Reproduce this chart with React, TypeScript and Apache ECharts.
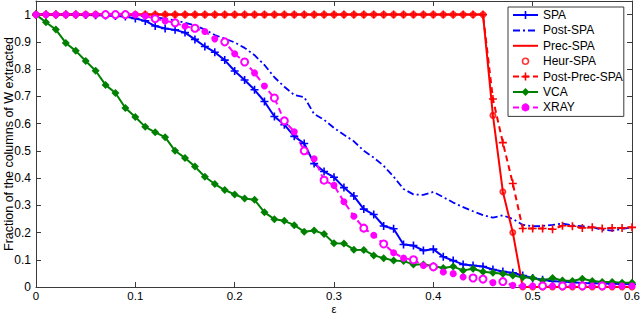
import React, { useEffect, useRef } from "react";
import * as echarts from "echarts";

const EPS = Array.from({ length: 61 }, (_, i) => +(i * 0.01).toFixed(2));

const SPA = [
  1, 1, 1, 1, 1,
  0.999, 0.998, 0.997, 0.995, 0.993,
  0.986, 0.977, 0.958, 0.949, 0.944,
  0.934, 0.909, 0.883, 0.862, 0.833,
  0.793, 0.76, 0.724, 0.681, 0.626,
  0.596, 0.553, 0.527, 0.453, 0.424,
  0.403, 0.365, 0.334, 0.286, 0.266,
  0.224, 0.214, 0.156, 0.152, 0.134,
  0.139, 0.111, 0.097, 0.083, 0.079,
  0.075, 0.064, 0.057, 0.052, 0.042,
  0.033, 0.027, 0.021, 0.02, 0.017,
  0.015, 0.014, 0.013, 0.012, 0.011,
  0.01,
];

const POST_SPA = [
  1, 1, 1, 1, 1,
  1, 1, 1, 1, 0.999,
  0.997, 0.994, 0.99, 0.985, 0.979,
  0.97, 0.96, 0.945, 0.925, 0.912,
  0.898, 0.878, 0.851, 0.815, 0.77,
  0.735, 0.705, 0.697, 0.635, 0.614,
  0.584, 0.559, 0.535, 0.5, 0.475,
  0.445, 0.405, 0.36, 0.34, 0.338,
  0.349, 0.33, 0.31, 0.293, 0.278,
  0.264, 0.255, 0.263, 0.25, 0.228,
  0.223, 0.224, 0.228, 0.233, 0.226,
  0.223, 0.22, 0.21, 0.207, 0.213,
  0.219,
];

const PREC_SPA = [
  1, 1, 1, 1, 1, 1, 1, 1, 1, 1,
  1, 1, 1, 1, 1, 1, 1, 1, 1, 1,
  1, 1, 1, 1, 1, 1, 1, 1, 1, 1,
  1, 1, 1, 1, 1, 1, 1, 1, 1, 1,
  1, 1, 1, 1, 1, 1,
  0.63, 0.35, 0.2,
  0, 0, 0, 0, 0, 0, 0, 0, 0, 0, 0, 0,
];

const HEUR_SPA = [
  1, 1, 1, 1, 1, 1, 1, 1, 1, 1,
  1, 1, 1, 1, 1, 1, 1, 1, 1, 1,
  1, 1, 1, 1, 1, 1, 1, 1, 1, 1,
  1, 1, 1, 1, 1, 1, 1, 1, 1, 1,
  1, 1, 1, 1, 1, 1,
  0.63, 0.35, 0.2,
  0, 0, 0, 0, 0, 0, 0, 0, 0, 0, 0, 0,
];

const POST_PREC_SPA = [
  1, 1, 1, 1, 1, 1, 1, 1, 1, 1,
  1, 1, 1, 1, 1, 1, 1, 1, 1, 1,
  1, 1, 1, 1, 1, 1, 1, 1, 1, 1,
  1, 1, 1, 1, 1, 1, 1, 1, 1, 1,
  1, 1, 1, 1, 1, 1,
  0.69, 0.53, 0.38,
  0.215, 0.215, 0.215, 0.212, 0.225, 0.223, 0.217, 0.219, 0.215, 0.217, 0.217, 0.219,
];

const VCA = [
  1, 0.972, 0.945, 0.896, 0.867,
  0.83, 0.794, 0.742, 0.712, 0.657,
  0.624, 0.588, 0.568, 0.55, 0.5,
  0.474, 0.442, 0.405, 0.378, 0.356,
  0.34, 0.325, 0.32, 0.274, 0.249,
  0.243, 0.227, 0.203, 0.207, 0.195,
  0.161, 0.16, 0.137, 0.136, 0.116,
  0.106, 0.097, 0.095, 0.083, 0.083,
  0.077, 0.07, 0.075, 0.061, 0.067,
  0.056, 0.052, 0.049, 0.042, 0.036,
  0.033, 0.024, 0.033, 0.024, 0.022,
  0.03, 0.022, 0.018, 0.018, 0.016,
  0.016,
];

const XRAY = [
  1, 1, 1, 1, 1,
  1, 1, 1, 1, 1,
  1, 0.995, 0.985, 0.977, 0.97,
  0.957, 0.95, 0.938, 0.911, 0.9,
  0.856, 0.826, 0.786, 0.738, 0.694,
  0.61, 0.57, 0.5, 0.471, 0.392,
  0.373, 0.313, 0.26, 0.216, 0.19,
  0.158, 0.126, 0.106, 0.1, 0.079,
  0.074, 0.055, 0.049, 0.037, 0.033,
  0.029, 0.016, 0.02, 0.006, 0.004,
  0.004, 0.004, 0.004, 0.004, 0.004,
  0.004, 0.004, 0.004, 0.004, 0.004,
  0.004,
];

// epsilon values where the XRAY marker appears as an open circle
const XRAY_OPEN = [0.07, 0.08, 0.09, 0.12, 0.14, 0.16, 0.19, 0.21, 0.24, 0.25, 0.27, 0.29, 0.33, 0.35, 0.38, 0.4, 0.44, 0.45, 0.47, 0.51, 0.53, 0.55, 0.57];

const X_TICKS = { min: 0, max: 0.6, interval: 0.1 };
const Y_TICKS = { min: 0, max: 1.05, interval: 0.1 };

const PLUS = "path://M0,4H10V6H0Z M4,0H6V10H4Z";
const SMALL_RING = "path://M0,0 M10,10 M8,5 A3,3 0 1,1 2,5 A3,3 0 1,1 8,5 Z";
const FONT = "'Liberation Sans', Arial, Helvetica, sans-serif";
const AXIS_COLOR = "#3a3a3a";

export default function App() {
  const ref = useRef<HTMLDivElement>(null);
  useEffect(() => {
    if (!ref.current) return;
    const chart = echarts.init(ref.current, null, { renderer: "svg" });
    const pairs = (arr: number[]) => EPS.map((x, i) => [x, arr[i]]);
    const axisCommon = {
      axisLine: { show: true, onZero: false, lineStyle: { color: AXIS_COLOR, width: 1 } },
      axisTick: { show: true, inside: true, length: 5, lineStyle: { color: AXIS_COLOR } },
      splitLine: { show: false },
    };
    const hideSym = { opacity: 0, color: "transparent", borderWidth: 0 };
    chart.setOption({
      animation: false,
      backgroundColor: "#fff",
      grid: { left: 36, right: 8, top: 1, bottom: 28, containLabel: false, outerBoundsMode: "none" },
      legend: {
        orient: "vertical",
        left: 508,
        top: 7,
        itemWidth: 25,
        itemHeight: 10,
        itemGap: 3.4,
        itemTextGap: 2,
        padding: [2, 1, 3, 4],
        backgroundColor: "#fff",
        borderColor: AXIS_COLOR,
        borderWidth: 1,
        textStyle: { fontSize: 12, fontFamily: FONT, color: "#000" },
        data: [
          "SPA",
          { name: "Post-SPA", itemStyle: hideSym },
          { name: "Prec-SPA", itemStyle: hideSym },
          {
            name: "Heur-SPA",
            icon: SMALL_RING,
            itemStyle: { color: "transparent", borderColor: "#ff0000", borderWidth: 1.6 },
          },
          "Post-Prec-SPA",
          "VCA",
          "XRAY",
        ],
      },
      xAxis: [
        {
          type: "value",
          position: "bottom",
          ...X_TICKS,
          ...axisCommon,
          axisLabel: { fontSize: 11.5, lineHeight: 12, fontFamily: FONT, color: "#000", margin: 3 },
          name: "ε",
          nameLocation: "middle",
          nameGap: 16,
          nameMoveOverlap: false,
          nameTextStyle: { fontSize: 11, lineHeight: 11, fontFamily: FONT, color: "#000" },
        },
        {
          type: "value",
          position: "top",
          ...X_TICKS,
          ...axisCommon,
          axisLabel: { show: false },
        },
      ],
      yAxis: [
        {
          type: "value",
          position: "left",
          ...Y_TICKS,
          ...axisCommon,
          axisLabel: { fontSize: 12, fontFamily: FONT, color: "#000", margin: 5, showMaxLabel: false },
          name: "Fraction of the columns of W extracted",
          nameLocation: "middle",
          nameGap: 21,
          nameMoveOverlap: false,
          nameTextStyle: { fontSize: 12.5, fontFamily: FONT, color: "#000" },
        },
        {
          type: "value",
          position: "right",
          ...Y_TICKS,
          ...axisCommon,
          axisLabel: { show: false },
        },
      ],
      series: [
        {
          name: "SPA",
          type: "line",
          data: pairs(SPA),
          symbol: PLUS,
          symbolSize: 8,
          showAllSymbol: true,
          lineStyle: { color: "#0000ff", width: 2 },
          itemStyle: { color: "#0000ff" },
        },
        {
          name: "Post-SPA",
          type: "line",
          data: pairs(POST_SPA),
          symbol: "none",
          lineStyle: { color: "#0000ff", width: 1.8, type: [7, 3, 2, 3] },
          itemStyle: { color: "#0000ff" },
        },
        {
          name: "Prec-SPA",
          type: "line",
          data: pairs(PREC_SPA),
          symbol: "none",
          lineStyle: { color: "#ff0000", width: 2 },
          itemStyle: { color: "#ff0000" },
        },
        {
          name: "Heur-SPA",
          type: "scatter",
          data: pairs(HEUR_SPA),
          symbol: "emptyCircle",
          symbolSize: 5,
          itemStyle: { color: "#ff0000", borderColor: "#ff0000", borderWidth: 2.5 },
        },
        {
          name: "Post-Prec-SPA",
          type: "line",
          data: pairs(POST_PREC_SPA),
          symbol: PLUS,
          symbolSize: 8,
          showAllSymbol: true,
          lineStyle: { color: "#ff0000", width: 2, type: [6, 4] },
          itemStyle: { color: "#ff0000" },
        },
        {
          name: "VCA",
          type: "line",
          data: pairs(VCA),
          symbol: "diamond",
          symbolSize: 8,
          showAllSymbol: true,
          lineStyle: { color: "#008000", width: 2 },
          itemStyle: { color: "#008000" },
        },
        {
          name: "XRAY",
          type: "line",
          data: EPS.map((x, i) => ({
            value: [x, XRAY[i]],
            symbol: XRAY_OPEN.includes(x) ? "emptyCircle" : "circle",
          })),
          symbol: "circle",
          symbolSize: 7,
          showAllSymbol: true,
          lineStyle: { color: "#ff00ff", width: 2, type: [6, 4] },
          itemStyle: { color: "#ff00ff", borderWidth: 2 },
        },
      ],
    });
    return () => chart.dispose();
  }, []);
  return <div ref={ref} style={{ width: 640, height: 315, position: "absolute", left: 0, top: 0 }} />;
}
